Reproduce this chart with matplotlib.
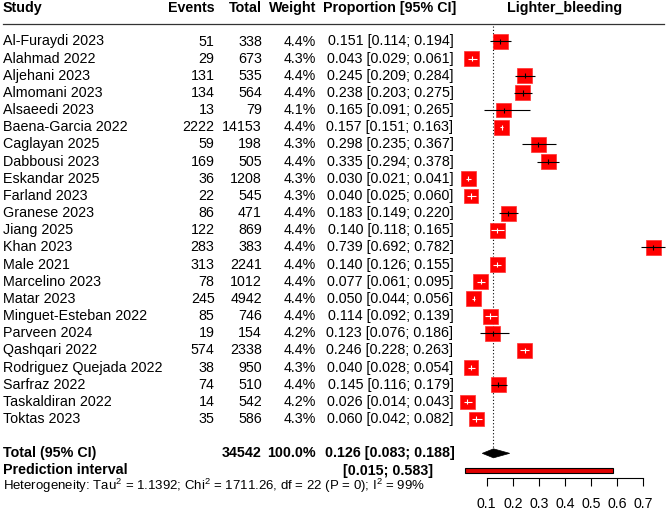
import numpy as np
import matplotlib
matplotlib.use('Agg')
import matplotlib.pyplot as plt
from matplotlib.patches import Rectangle, Polygon
from matplotlib.transforms import blended_transform_factory

plt.rcParams['font.family'] = ['Liberation Sans', 'DejaVu Sans']
plt.rcParams['mathtext.fontset'] = 'custom'
plt.rcParams['mathtext.rm'] = 'Liberation Sans'
plt.rcParams['mathtext.it'] = 'Liberation Sans:italic'
plt.rcParams['mathtext.bf'] = 'Liberation Sans:bold'

studies = ['Al-Furaydi 2023', 'Alahmad 2022', 'Aljehani 2023', 'Almomani 2023',
           'Alsaeedi 2023', 'Baena-Garcia 2022', 'Caglayan 2025', 'Dabbousi 2023',
           'Eskandar 2025', 'Farland 2023', 'Granese 2023', 'Jiang 2025',
           'Khan 2023', 'Male 2021', 'Marcelino 2023', 'Matar 2023',
           'Minguet-Esteban 2022', 'Parveen 2024', 'Qashqari 2022',
           'Rodriguez Quejada 2022', 'Sarfraz 2022', 'Taskaldiran 2022', 'Toktas 2023']
events = [51, 29, 131, 134, 13, 2222, 59, 169, 36, 22, 86, 122, 283, 313, 78, 245,
          85, 19, 574, 38, 74, 14, 35]
totals = [338, 673, 535, 564, 79, 14153, 198, 505, 1208, 545, 471, 869, 383, 2241,
          1012, 4942, 746, 154, 2338, 950, 510, 542, 586]
weights = [4.4, 4.3, 4.4, 4.4, 4.1, 4.4, 4.3, 4.4, 4.3, 4.3, 4.4, 4.4, 4.4, 4.4,
           4.4, 4.4, 4.4, 4.2, 4.4, 4.3, 4.4, 4.2, 4.3]
prop = [0.151, 0.043, 0.245, 0.238, 0.165, 0.157, 0.298, 0.335, 0.030, 0.040,
        0.183, 0.140, 0.739, 0.140, 0.077, 0.050, 0.114, 0.123, 0.246, 0.040,
        0.145, 0.026, 0.060]
lower = [0.114, 0.029, 0.209, 0.203, 0.091, 0.151, 0.235, 0.294, 0.021, 0.025,
         0.149, 0.118, 0.692, 0.126, 0.061, 0.044, 0.092, 0.076, 0.228, 0.028,
         0.116, 0.014, 0.042]
upper = [0.194, 0.061, 0.284, 0.275, 0.265, 0.163, 0.367, 0.378, 0.041, 0.060,
         0.220, 0.165, 0.782, 0.155, 0.095, 0.056, 0.139, 0.186, 0.263, 0.054,
         0.179, 0.043, 0.082]

pooled = 0.126
pooled_ci = (0.083, 0.188)
pred_int = (0.015, 0.583)
total_n = 34542
total_weight = '100.0%'
heterogeneity = 'Heterogeneity: Tau$^2$ = 1.1392; Chi$^2$ = 1711.26, df = 22 (P = 0); I$^2$ = 99%'
ticks = [0.1, 0.2, 0.3, 0.4, 0.5, 0.6, 0.7]

W, H = 666, 511
fig = plt.figure(figsize=(W / 100, H / 100), dpi=100)
ax = fig.add_axes([0, 0, 1, 1])

# pixel layout of the forest panel
x0_px, unit_px = 460.6, 261.0
row0_px, row_px = 41.5, 17.16
ax.set_xlim((0 - x0_px) / unit_px, (W - x0_px) / unit_px)
ax.set_ylim((H - row0_px) / row_px, (0 - row0_px) / row_px)

tr = blended_transform_factory(fig.transFigure, ax.transData)
fs = 10.3

# header
hy = (8 - row0_px) / row_px
ax.text(3 / W, hy, 'Study', transform=tr, fontsize=fs, fontweight='bold', va='center')
ax.text(214.5 / W, hy, 'Events', transform=tr, fontsize=fs, fontweight='bold', va='center', ha='right')
ax.text(262 / W, hy, 'Total', transform=tr, fontsize=fs, fontweight='bold', va='center', ha='right')
ax.text(316 / W, hy, 'Weight', transform=tr, fontsize=fs, fontweight='bold', va='center', ha='right')
ax.text(456 / W, hy, 'Proportion [95% CI]', transform=tr, fontsize=fs, fontweight='bold',
        va='center', ha='right')
ax.text(np.mean(ticks), hy, 'Lighter_bleeding', fontsize=fs, fontweight='bold',
        va='center', ha='center')
ax.plot([3 / W, 664 / W], [(24 - row0_px) / row_px] * 2, transform=tr,
        color='#333333', lw=0.9, clip_on=False)

half_x = 7.5 / unit_px
half_y = 7.5 / row_px
for i, name in enumerate(studies):
    ax.text(3 / W, i, name, transform=tr, fontsize=fs, va='center')
    ax.text(214.5 / W, i, str(events[i]), transform=tr, fontsize=fs, va='center', ha='right')
    ax.text(262 / W, i, str(totals[i]), transform=tr, fontsize=fs, va='center', ha='right')
    ax.text(316 / W, i, f'{weights[i]:.1f}%', transform=tr, fontsize=fs, va='center', ha='right')
    ax.text(453.5 / W, i, f'{prop[i]:.3f} [{lower[i]:.3f}; {upper[i]:.3f}]', transform=tr,
            fontsize=fs, va='center', ha='right')

    s = np.sqrt(weights[i] / 4.4)
    hx, hh = half_x * s, half_y * s
    ax.add_patch(Rectangle((prop[i] - hx, i - hh), 2 * hx, 2 * hh,
                           facecolor='#ff0000', edgecolor='#ff3030', lw=0.5, zorder=3))
    inside = lower[i] >= prop[i] - hx and upper[i] <= prop[i] + hx
    c = 'white' if inside else 'black'
    ax.plot([lower[i], upper[i]], [i, i], color=c, lw=0.8, zorder=4, solid_capstyle='butt')
    ax.plot([prop[i], prop[i]], [i - 0.15, i + 0.15], color=c, lw=0.8, zorder=4,
            solid_capstyle='butt')

# pooled estimate
ty = 24
pi_y = 25
ax.text(3 / W, ty, 'Total (95% CI)', transform=tr, fontsize=fs, fontweight='bold', va='center')
ax.text(262 / W, ty, str(total_n), transform=tr, fontsize=fs, fontweight='bold', va='center', ha='right')
ax.text(316 / W, ty, total_weight, transform=tr, fontsize=fs, fontweight='bold', va='center', ha='right')
ax.text(455 / W, ty, f'{pooled:.3f} [{pooled_ci[0]:.3f}; {pooled_ci[1]:.3f}]', transform=tr,
        fontsize=fs, fontweight='bold', va='center', ha='right')
ax.text(3 / W, pi_y, 'Prediction interval', transform=tr, fontsize=fs, fontweight='bold', va='center')
ax.text(433 / W, pi_y, f'[{pred_int[0]:.3f}; {pred_int[1]:.3f}]', transform=tr,
        fontsize=fs, fontweight='bold', va='center', ha='right')

dh = 4.5 / row_px
ax.add_patch(Polygon([(pooled_ci[0], ty), (pooled, ty - dh), (pooled_ci[1], ty), (pooled, ty + dh)],
                     closed=True, facecolor='black', edgecolor='black', lw=0.5, zorder=3))
ax.plot([pooled, pooled], [(26 - row0_px) / row_px, ty - dh], color='black', lw=0.8,
        linestyle=(0, (1, 2)), zorder=1)

ph = 2.2 / row_px
ax.add_patch(Rectangle((pred_int[0], pi_y - ph), pred_int[1] - pred_int[0], 2 * ph,
                       facecolor='#e00000', edgecolor='black', lw=0.8, zorder=3))

ax.text(3 / W, 25.92, heterogeneity, transform=tr, fontsize=9.5, va='center')

# x axis
for side in ['top', 'left', 'right']:
    ax.spines[side].set_visible(False)
ax.spines['bottom'].set_position(('data', (478.3 - row0_px) / row_px))
ax.spines['bottom'].set_bounds(ticks[0], ticks[-1])
ax.spines['bottom'].set_linewidth(0.8)
ax.set_xticks(ticks)
ax.set_xticklabels([f'{t:.1f}' for t in ticks])
ax.tick_params(axis='x', direction='out', length=5.6, width=0.8, pad=8, labelsize=10.2)
ax.set_yticks([])
ax.patch.set_alpha(0)

fig.savefig('out.png', dpi=100, facecolor='white')
